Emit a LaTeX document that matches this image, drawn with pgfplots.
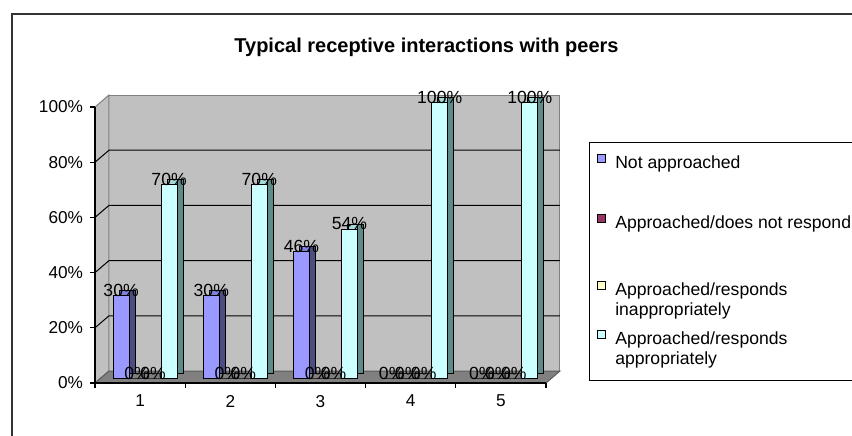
\documentclass[border=0pt]{standalone}
\usepackage{pgfplots}
\pgfplotsset{compat=1.18}
\usepackage{pgfplotstable}
\usepackage{fontspec}
\setmainfont{Liberation Sans}
\definecolor{cA}{HTML}{9999FF}
\definecolor{cB}{HTML}{993366}
\definecolor{cC}{HTML}{FFFFCC}
\definecolor{cD}{HTML}{CCFFFF}
\definecolor{tA}{HTML}{8080DD}
\definecolor{tB}{HTML}{7A2952}
\definecolor{tC}{HTML}{DDDDAA}
\definecolor{tD}{HTML}{A8D8D8}
\definecolor{sA}{HTML}{4D4D80}
\definecolor{sB}{HTML}{4D1A33}
\definecolor{sC}{HTML}{808066}
\definecolor{sD}{HTML}{5F8A8A}
\definecolor{wall}{HTML}{C0C0C0}
\definecolor{floorc}{HTML}{808080}

\pgfplotstableread{
x A B C D
1 30 0 0 70
2 30 0 0 70
3 46 0 0 54
4 0 0 0 100
5 0 0 0 100
}\data

\pgfplotsset{
  topbar/.style={ybar, bar width=8pt, draw=black, line width=0.4pt, xshift=5.5pt, yshift=5pt, forget plot, bar shift=#1},
  sidebar/.style={ybar, bar width=3pt, draw=black, line width=0.4pt, xshift=2.5pt, yshift=5pt, forget plot, bar shift=#1},
  frontbar/.style={ybar, bar width=8pt, draw=black, line width=0.4pt, xshift=2.5pt, yshift=2.5pt, forget plot, bar shift=#1,
    nodes near coords={\pgfmathprintnumber[assume math mode=true]{\pgfplotspointmeta}\%},
    every node near coord/.append style={font=\fontsize{8.8}{10}\selectfont, anchor=base, inner sep=0pt, yshift=-0.5pt, xshift=#1}},
}

\begin{document}
\begin{tikzpicture}[x=1pt,y=1pt]
\path[use as bounding box] (0,0) rectangle (426,217.5);
\clip (0,0) rectangle (426,217.5);
\draw[line width=1pt, black!80] (6,-2) -- (6,210.5) -- (430,210.5);
\node[font=\bfseries\fontsize{10}{12}\selectfont] at (213.25,194) {Typical receptive interactions with peers};
\begin{axis}[
  at={(47.5pt,26pt)}, anchor=south west, scale only axis,
  width=225.5pt, height=138pt,
  xmin=0.5, xmax=5.5, ymin=0, ymax=100, enlargelimits=false, clip=false, axis on top,
  axis x line*=bottom, axis y line*=left, axis line style={-, black, line width=0.6pt},
  xtick={0.5,1.5,2.5,3.5,4.5,5.5}, x tick label as interval, xticklabels={1,2,3,4,5},
  ytick={0,20,40,60,80,100}, yticklabels={0\%,20\%,40\%,60\%,80\%,100\%},
  tick align=outside, major tick length=2.5pt, tick style={black, line width=0.6pt},
  ticklabel style={font=\fontsize{8.6}{10}\selectfont},
  legend style={at={(rel axis cs:1.0953,0.873)}, anchor=north west, draw=black, line width=0.5pt, fill=white,
    font=\fontsize{8.8}{10}\selectfont, inner xsep=4pt, inner ysep=4.5pt, row sep=2.3pt, column sep=2.5pt,
    cells={anchor=north west, align=left, inner sep=0pt}},
  legend image code/.code={\draw[#1, draw=black, line width=0.4pt] (0pt,-5.5pt) rectangle (4pt,-1.5pt);},
]
% walls and floor
\fill[wall, draw=floorc, line width=0.5pt] ([shift={(7pt,6pt)}]axis cs:0.5,0) rectangle ([shift={(7pt,6pt)}]axis cs:5.5,100);
\fill[wall, draw=floorc, line width=0.5pt] (axis cs:0.5,0) -- (axis cs:0.5,100) -- ([shift={(7pt,6pt)}]axis cs:0.5,100) -- ([shift={(7pt,6pt)}]axis cs:0.5,0) -- cycle;
\fill[floorc, draw=floorc!70!black, line width=0.5pt] (axis cs:0.5,0) -- (axis cs:5.5,0) -- ([shift={(7pt,6pt)}]axis cs:5.5,0) -- ([shift={(7pt,6pt)}]axis cs:0.5,0) -- cycle;
\pgfplotsinvokeforeach{20,40,60,80}{
  \draw[black, line width=0.5pt] (axis cs:0.5,#1) -- ([shift={(7pt,6pt)}]axis cs:0.5,#1) -- ([shift={(7pt,6pt)}]axis cs:5.5,#1);
}
% bars
\addplot[topbar=-12pt, fill=tA] table[x=x,y=A]{\data};
\addplot[sidebar=-6.5pt, fill=sA] table[x=x,y=A]{\data};
\addplot[frontbar=-12pt, fill=cA] table[x=x,y=A]{\data};
\addplot[topbar=-4pt, fill=tB] table[x=x,y=B]{\data};
\addplot[sidebar=1.5pt, fill=sB] table[x=x,y=B]{\data};
\addplot[frontbar=-4pt, fill=cB] table[x=x,y=B]{\data};
\addplot[topbar=4pt, fill=tC] table[x=x,y=C]{\data};
\addplot[sidebar=9.5pt, fill=sC] table[x=x,y=C]{\data};
\addplot[frontbar=4pt, fill=cC] table[x=x,y=C]{\data};
\addplot[topbar=12pt, fill=tD] table[x=x,y=D]{\data};
\addplot[sidebar=17.5pt, fill=sD] table[x=x,y=D]{\data};
\addplot[frontbar=12pt, fill=cD] table[x=x,y=D]{\data};
% legend
\addlegendimage{fill=cA}
\addlegendentry{Not approached\\[5.5pt]{}}
\addlegendimage{fill=cB}
\addlegendentry{Approached/does not respond\\[9pt]{}}
\addlegendimage{fill=cC}
\addlegendentry{Approached/responds\\inappropriately}
\addlegendimage{fill=cD}
\addlegendentry{Approached/responds\\appropriately}
\end{axis}
\end{tikzpicture}
\end{document}
